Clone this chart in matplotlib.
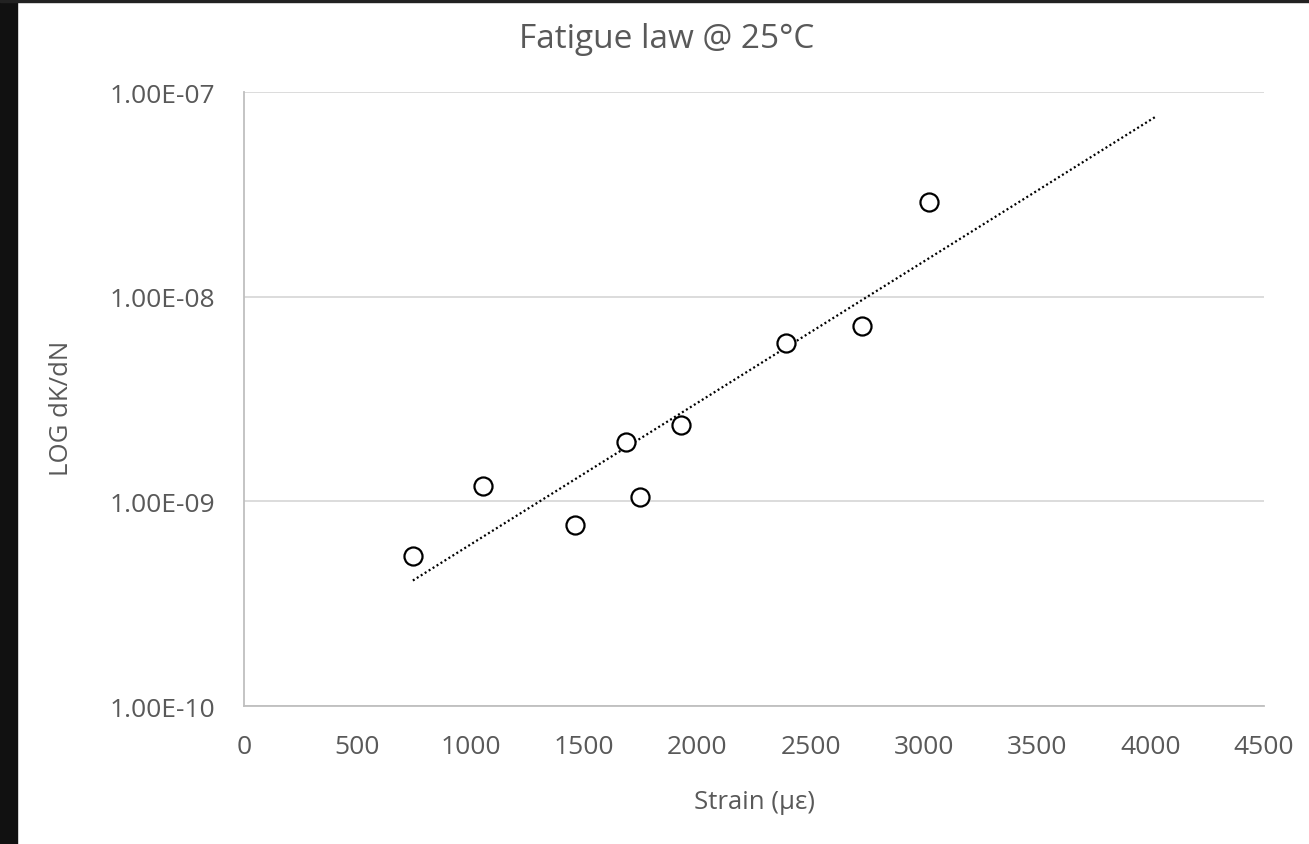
import numpy as np
import matplotlib
matplotlib.use("Agg")
import matplotlib.pyplot as plt
from matplotlib.patches import Rectangle
from matplotlib.ticker import FuncFormatter, FixedLocator

# measured points (strain in microstrain, dK/dN)
strain = [745, 1054, 1460, 1685, 1747, 1928, 2391, 2726, 3022]
dkdn = [5.41e-10, 1.19e-9, 7.66e-10, 1.95e-9, 1.05e-9, 2.36e-9, 5.94e-9, 7.19e-9, 2.90e-8]
forecast = 1000  # trendline forward forecast, like Excel

GRAY = "#595959"
plt.rcParams.update({"font.family": ["Open Sans", "DejaVu Sans"], "font.size": 15})

W, H = 1309, 845
fig = plt.figure(figsize=(W / 100, H / 100), dpi=100)
fig.patches.append(Rectangle((0, 0), 17 / W, 1, transform=fig.transFigure, color="#111111", zorder=10))
fig.patches.append(Rectangle((0, 1 - 3 / H), 1, 3 / H, transform=fig.transFigure, color="#222222", zorder=10))

ax = fig.add_axes([244 / W, 1 - 707 / H, 1020 / W, 614 / H])
ax.set_yscale("log")
ax.set_xlim(0, 4500)
ax.set_ylim(1e-10, 1e-7)

# exponential trendline (linear fit in log space)
x = np.array(strain, dtype=float)
b, a = np.polyfit(x, np.log10(dkdn), 1)
xt = np.array([x.min(), x.max() + forecast])
ax.plot(xt, 10 ** (a + b * xt), color="black", lw=1.6, ls=(0, (0.9, 1.2)), zorder=3)

ax.plot(strain, dkdn, ls="none", marker="o", ms=13, mfc="white", mec="black", mew=1.6, zorder=4)

ax.yaxis.set_major_locator(FixedLocator([1e-10, 1e-9, 1e-8, 1e-7]))
ax.yaxis.set_minor_locator(FixedLocator([]))
ax.yaxis.set_major_formatter(FuncFormatter(lambda v, p: f"{v:.2E}"))
ax.set_xticks(range(0, 4501, 500))
ax.grid(axis="y", color="#d9d9d9", lw=1.3)
ax.set_axisbelow(True)
for s in ("top", "right"):
    ax.spines[s].set_visible(False)
for s in ("left", "bottom"):
    ax.spines[s].set_color("#bfbfbf")
    ax.spines[s].set_linewidth(1.3)
ax.tick_params(length=0, colors=GRAY, labelsize=19)
ax.tick_params(axis="x", pad=20)
ax.tick_params(axis="y", pad=21)

fig.text(754 / W, 1 - 803 / H, "Strain (\u03bc\u03b5)", color=GRAY, fontsize=18.5, ha="center", va="center")
fig.text(61 / W, 1 - 408 / H, "LOG dK/dN", color=GRAY, fontsize=18.5, ha="center", va="center", rotation=90)
fig.text(667 / W, 1 - 40 / H, "Fatigue law @ 25\u00b0C", color=GRAY, fontsize=24, ha="center", va="center")

fig.savefig("out.png", dpi=100)
